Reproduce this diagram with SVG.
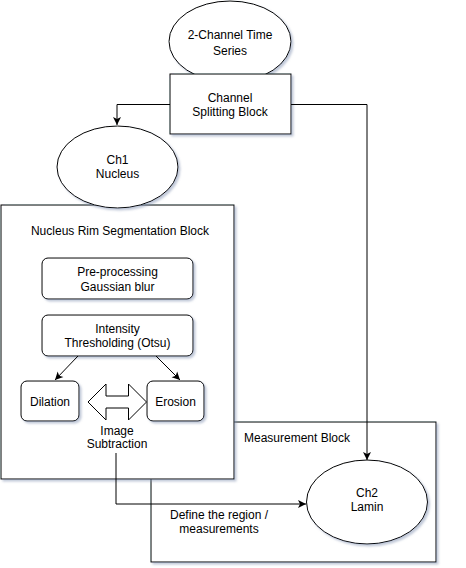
<svg xmlns="http://www.w3.org/2000/svg" width="466" height="568" viewBox="0 0 466 568">
<defs>
<filter id="sh" x="-10%" y="-10%" width="130%" height="130%">
<feDropShadow dx="2" dy="2" stdDeviation="1" flood-color="#8090b0" flood-opacity="0.5"/>
</filter>
<marker id="ah" markerWidth="10" markerHeight="10" refX="9" refY="5" orient="auto" markerUnits="userSpaceOnUse">
<path d="M1,1 L9,5 L1,9 L3,5 Z" fill="#000"/>
</marker>
<style>
.s{fill:#fff;stroke:#000;stroke-width:1;filter:url(#sh)}
.t{font-family:"Liberation Sans",Arial,sans-serif;font-size:12px;fill:#000;text-anchor:middle}
.c{fill:none;stroke:#000;stroke-width:1}
</style>
</defs>
<rect width="466" height="568" fill="#fff"/>
<g id="measurement-block">
<rect class="s" x="151" y="422" width="285" height="140"/>
<text class="t" x="297" y="442">Measurement Block</text>
</g>
<g id="nucleus-rim-block">
<rect class="s" x="1" y="205" width="233" height="274"/>
<text class="t" x="120" y="235">Nucleus Rim Segmentation Block</text>
</g>
<g id="ch1">
<ellipse class="s" cx="117.5" cy="167" rx="60.5" ry="41"/>
<text class="t" x="117.5" y="164">Ch1</text>
<text class="t" x="117.5" y="178">Nucleus</text>
</g>
<g id="time-series">
<ellipse class="s" cx="230" cy="41.5" rx="61" ry="40.5"/>
<text class="t" x="230" y="39">2-Channel Time</text>
<text class="t" x="230" y="55">Series</text>
</g>
<g id="channel-splitting">
<rect class="s" x="170" y="74" width="121" height="60"/>
<text class="t" x="230" y="102">Channel</text>
<text class="t" x="230" y="116">Splitting Block</text>
</g>
<g id="preprocessing">
<rect class="s" x="42" y="258" width="151" height="41" rx="6"/>
<text class="t" x="117.5" y="276">Pre-processing</text>
<text class="t" x="117.5" y="291">Gaussian blur</text>
</g>
<g id="thresholding">
<rect class="s" x="42" y="315" width="151" height="41" rx="6"/>
<text class="t" x="117.5" y="333">Intensity</text>
<text class="t" x="117.5" y="347">Thresholding (Otsu)</text>
</g>
<g id="dilation">
<rect class="s" x="21" y="381" width="58" height="40" rx="6"/>
<text class="t" x="50" y="406">Dilation</text>
</g>
<g id="erosion">
<rect class="s" x="147" y="381" width="57" height="40" rx="6"/>
<text class="t" x="175.5" y="406">Erosion</text>
</g>
<g id="ch2">
<ellipse class="s" cx="367" cy="502" rx="60.5" ry="42"/>
<text class="t" x="367" y="497">Ch2</text>
<text class="t" x="367" y="511">Lamin</text>
</g>
<g id="connectors">
<path class="c" d="M170,104.5 H117 V125" marker-end="url(#ah)"/>
<path class="c" d="M291,104.5 H367 V460" marker-end="url(#ah)"/>
<path class="c" d="M78,356 L55,380" marker-end="url(#ah)"/>
<path class="c" d="M156,356 L180,380" marker-end="url(#ah)"/>
<path d="M88,402 L106,384 V396 H128.5 V384 L146.5,402 L128.5,420 V408 H106 V420 Z" fill="#fff" stroke="#000" stroke-width="1"/>
<text class="t" x="117" y="435">Image</text>
<text class="t" x="117" y="448">Subtraction</text>
<path class="c" d="M116,453 V504 H306" marker-end="url(#ah)"/>
<text class="t" x="219" y="519">Define the region /</text>
<text class="t" x="219" y="533">measurements</text>
</g>
</svg>
